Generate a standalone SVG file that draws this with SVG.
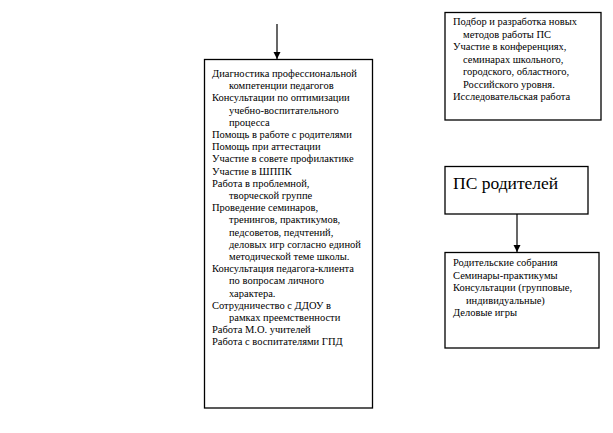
<svg xmlns="http://www.w3.org/2000/svg" width="613" height="433" viewBox="0 0 613 433">
<defs>
<style>
.box{fill:#fff;stroke:#000;stroke-width:1.3}
.t{font-family:'Liberation Serif','Times New Roman',serif;font-size:10.5px;fill:#000}
.big{font-family:'Liberation Serif','Times New Roman',serif;font-size:17.5px;fill:#000}
.ln{stroke:#000;stroke-width:1.2;fill:none}
</style>
<marker id="ah" markerWidth="8" markerHeight="8" refX="7" refY="4" orient="auto" markerUnits="userSpaceOnUse">
<path d="M0,0.5 L7,4 L0,7.5 Z" fill="#000"/>
</marker>
</defs>
<rect width="613" height="433" fill="#fff"/>
<g id="connectors">
<line class="ln" x1="277" y1="24" x2="277" y2="59" marker-end="url(#ah)"/>
<line class="ln" x1="517" y1="214" x2="517" y2="252" marker-end="url(#ah)"/>
</g>
<g id="main">
<rect class="box" x="204.5" y="59.5" width="168" height="348.5"/>
<text class="t">
<tspan x="212" y="77">Диагностика профессиональной</tspan>
<tspan x="229" y="89.2">компетенции педагогов</tspan>
<tspan x="212" y="101.4">Консультации по оптимизации</tspan>
<tspan x="229" y="113.6">учебно-воспитательного</tspan>
<tspan x="229" y="125.8">процесса</tspan>
<tspan x="212" y="138">Помощь в работе с родителями</tspan>
<tspan x="212" y="150.2">Помощь при аттестации</tspan>
<tspan x="212" y="162.4">Участие в совете профилактике</tspan>
<tspan x="212" y="174.6">Участие в ШППК</tspan>
<tspan x="212" y="186.8">Работа в проблемной,</tspan>
<tspan x="229" y="199">творческой группе</tspan>
<tspan x="212" y="211.2">Проведение семинаров,</tspan>
<tspan x="229" y="223.4">тренингов, практикумов,</tspan>
<tspan x="229" y="235.6">педсоветов, педчтений,</tspan>
<tspan x="229" y="247.8">деловых игр согласно единой</tspan>
<tspan x="229" y="260">методической теме школы.</tspan>
<tspan x="212" y="272.2">Консультация педагога-клиента</tspan>
<tspan x="229" y="284.4">по вопросам личного</tspan>
<tspan x="229" y="296.6">характера.</tspan>
<tspan x="212" y="308.8">Сотрудничество с ДДОУ в</tspan>
<tspan x="229" y="321">рамках преемственности</tspan>
<tspan x="212" y="333.2">Работа М.О. учителей</tspan>
<tspan x="212" y="345.4">Работа с воспитателями ГПД</tspan>
</text>
</g>
<g id="methods">
<rect class="box" x="445" y="12.5" width="156" height="107.5"/>
<text class="t">
<tspan x="453" y="25">Подбор и разработка новых</tspan>
<tspan x="463" y="37.5">методов работы ПС</tspan>
<tspan x="453" y="50">Участие в конференциях,</tspan>
<tspan x="463" y="62.5">семинарах школьного,</tspan>
<tspan x="463" y="75">городского, областного,</tspan>
<tspan x="463" y="87.5">Российского уровня.</tspan>
<tspan x="453" y="100">Исследовательская работа</tspan>
</text>
</g>
<g id="ps-parents">
<rect class="box" x="445" y="166.5" width="143" height="47.5"/>
<text class="big" x="453" y="189">ПС родителей</text>
</g>
<g id="parents-work">
<rect class="box" x="445" y="252.5" width="154" height="95.5"/>
<text class="t">
<tspan x="453" y="266">Родительские собрания</tspan>
<tspan x="453" y="278.5">Семинары-практикумы</tspan>
<tspan x="453" y="291">Консультации (групповые,</tspan>
<tspan x="466" y="303.5">индивидуальные)</tspan>
<tspan x="453" y="316">Деловые игры</tspan>
</text>
</g>
</svg>
